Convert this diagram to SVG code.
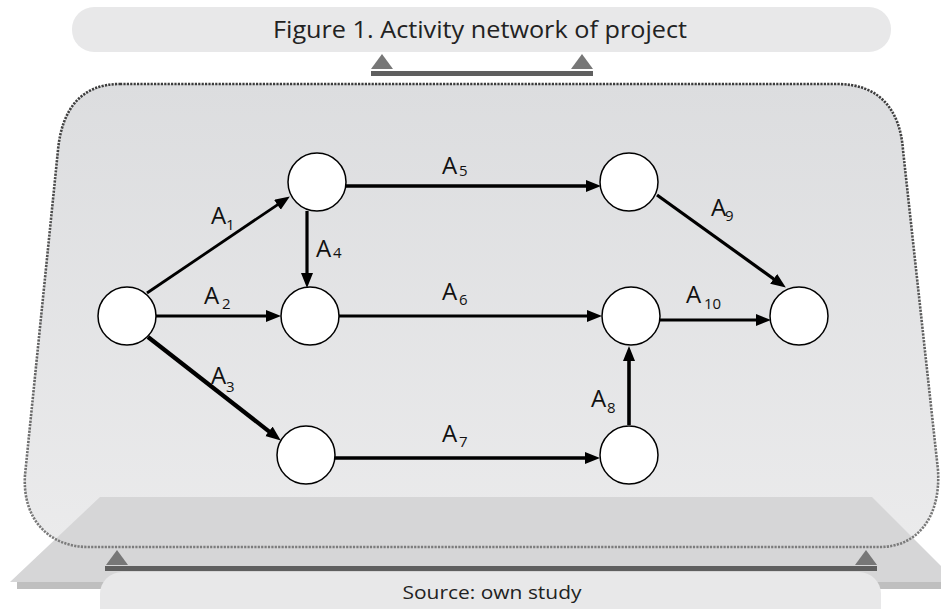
<svg xmlns="http://www.w3.org/2000/svg" width="941" height="609" viewBox="0 0 941 609">
<defs>
<linearGradient id="panelGrad" x1="0" y1="0" x2="0" y2="1">
<stop offset="0" stop-color="#dcdddf"/>
<stop offset="1" stop-color="#ebebec"/>
</linearGradient>
<linearGradient id="dotGrad" x1="0" y1="0" x2="0" y2="1">
<stop offset="0" stop-color="#3c3c3c"/>
<stop offset="1" stop-color="#7c7c7c"/>
</linearGradient>
<marker id="arr" markerUnits="userSpaceOnUse" markerWidth="18" markerHeight="14" refX="4" refY="6" orient="auto">
<path d="M0,0 L15,6 L0,12 Z" fill="#000"/>
</marker>
</defs>
<style>
.node circle{fill:#fff;stroke:#000;stroke-width:1.5}
.edge{stroke:#000;fill:none;marker-end:url(#arr)}
.lbl{font-family:"Open Sans","Noto Sans","Liberation Sans",sans-serif;font-size:24px;fill:#111}
.sub{font-size:15px}
.cap{font-family:"Open Sans","Noto Sans","Liberation Sans",sans-serif;fill:#222;text-anchor:middle}
.tri{fill:#777}
.bar{fill:#5f5f5f}
</style>
<rect width="941" height="609" fill="#fff"/>
<!-- title -->
<g id="title">
<rect x="72" y="7" width="819" height="45" rx="22" fill="#e8e8e9"/>
<text class="cap" x="480" y="38" font-size="23" textLength="414" lengthAdjust="spacingAndGlyphs">Figure 1. Activity network of project</text>
<polygon class="tri" points="371,69 393,69 382,54"/>
<polygon class="tri" points="571,69 593,69 582,54"/>
<rect class="bar" x="371" y="71" width="222" height="5"/>
</g>
<!-- panel -->
<g id="panel">
<path d="M120,84 L837,84 C880,84 900,110 903,150 L938,470 C941,520 915,547 880,547 L88,547 C50,547 22,520 25,475 L58,150 C62,108 82,84 120,84 Z" fill="url(#panelGrad)"/>
<polygon points="100,497 872,497 941,566 941,582 10,582" fill="#d6d6d7"/>
<rect x="17" y="582" width="924" height="7" fill="#bfbfbf"/>
<path d="M120,84 L837,84 C880,84 900,110 903,150 L938,470 C941,520 915,547 880,547 L88,547 C50,547 22,520 25,475 L58,150 C62,108 82,84 120,84 Z" fill="none" stroke="url(#dotGrad)" stroke-width="2.6" stroke-dasharray="2.2,1.2"/>
</g>
<!-- source -->
<g id="source">
<polygon class="tri" points="106,565 128,565 117,550"/>
<polygon class="tri" points="855,565 877,565 866,550"/>
<rect class="bar" x="105" y="566" width="772" height="5"/>
<rect x="100" y="572" width="781" height="70" rx="22" fill="#e8e8e9"/>
<text class="cap" x="492" y="599" font-size="19" textLength="179" lengthAdjust="spacingAndGlyphs">Source: own study</text>
</g>
<!-- connectors -->
<g id="connectors">
<line class="edge" x1="147" y1="293" x2="280.7" y2="202.6" stroke-width="2.8"/>
<line class="edge" x1="156" y1="316" x2="270" y2="316" stroke-width="2.8"/>
<line class="edge" x1="148" y1="337" x2="272.1" y2="433.8" stroke-width="4.2"/>
<line class="edge" x1="307" y1="211" x2="307" y2="277" stroke-width="3.2"/>
<line class="edge" x1="346" y1="186" x2="590" y2="186" stroke-width="3.6"/>
<line class="edge" x1="339" y1="316" x2="591" y2="316" stroke-width="2.8"/>
<line class="edge" x1="335" y1="458" x2="589" y2="458" stroke-width="3.6"/>
<line class="edge" x1="629" y1="425" x2="629" y2="357" stroke-width="3.6"/>
<line class="edge" x1="657" y1="195" x2="776.9" y2="281.2" stroke-width="3.2"/>
<line class="edge" x1="660" y1="320" x2="760" y2="320" stroke-width="3.2"/>
<text class="lbl" x="211" y="224">A<tspan class="sub" x="226" y="230">1</tspan></text>
<text class="lbl" x="204" y="304">A<tspan class="sub" x="222" y="309">2</tspan></text>
<text class="lbl" x="211" y="384">A<tspan class="sub" x="226" y="392">3</tspan></text>
<text class="lbl" x="316" y="257">A<tspan class="sub" x="333" y="258">4</tspan></text>
<text class="lbl" x="442" y="174">A<tspan class="sub" x="459" y="176">5</tspan></text>
<text class="lbl" x="442" y="300">A<tspan class="sub" x="459" y="305">6</tspan></text>
<text class="lbl" x="442" y="442">A<tspan class="sub" x="459" y="447">7</tspan></text>
<text class="lbl" x="591" y="407">A<tspan class="sub" x="607" y="413">8</tspan></text>
<text class="lbl" x="711" y="216">A<tspan class="sub" x="725" y="221">9</tspan></text>
<text class="lbl" x="686" y="303">A<tspan class="sub" x="704" y="309">10</tspan></text>
</g>
<!-- nodes -->
<g id="n1" class="node"><circle cx="127" cy="316" r="29"/></g>
<g id="n2" class="node"><circle cx="317" cy="182" r="29"/></g>
<g id="n3" class="node"><circle cx="310" cy="316" r="29"/></g>
<g id="n4" class="node"><circle cx="306" cy="455" r="29"/></g>
<g id="n5" class="node"><circle cx="629" cy="182" r="29"/></g>
<g id="n6" class="node"><circle cx="631" cy="316" r="29"/></g>
<g id="n7" class="node"><circle cx="629" cy="455" r="29"/></g>
<g id="n8" class="node"><circle cx="799" cy="316" r="29"/></g>
</svg>
